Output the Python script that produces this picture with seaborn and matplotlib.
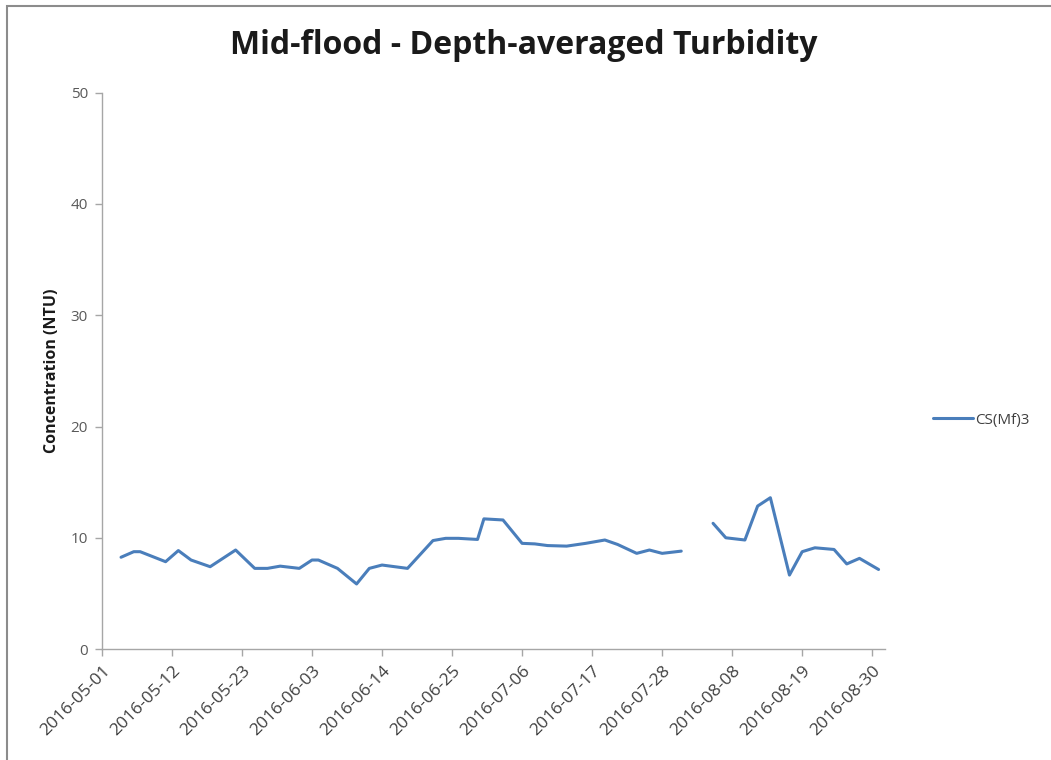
import numpy as np
import pandas as pd
import matplotlib.pyplot as plt
import matplotlib.dates as mdates
from matplotlib.patches import Rectangle
import seaborn as sns

dates = ["2016-05-04", "2016-05-06", "2016-05-07", "2016-05-11", "2016-05-13",
         "2016-05-15", "2016-05-18", "2016-05-22", "2016-05-25", "2016-05-27",
         "2016-05-29", "2016-06-01", "2016-06-03", "2016-06-04", "2016-06-07",
         "2016-06-10", "2016-06-12", "2016-06-14", "2016-06-16", "2016-06-18",
         "2016-06-22", "2016-06-24", "2016-06-26", "2016-06-29", "2016-06-30",
         "2016-07-03", "2016-07-06", "2016-07-08", "2016-07-10", "2016-07-13",
         "2016-07-16", "2016-07-19", "2016-07-21", "2016-07-24", "2016-07-26",
         "2016-07-28", "2016-07-31", "2016-08-02", "2016-08-05", "2016-08-07",
         "2016-08-10", "2016-08-12", "2016-08-14", "2016-08-17", "2016-08-19",
         "2016-08-21", "2016-08-24", "2016-08-26", "2016-08-28", "2016-08-31"]
turbidity = [8.25, 8.75, 8.75, 7.85, 8.85,
             8.0, 7.4, 8.9, 7.25, 7.25,
             7.45, 7.25, 8.0, 8.0, 7.25,
             5.85, 7.25, 7.55, 7.4, 7.25,
             9.75, 9.95, 9.95, 9.85, 11.7,
             11.6, 9.5, 9.45, 9.3, 9.25,
             9.5, 9.8, 9.4, 8.6, 8.9,
             8.6, 8.8, np.nan, 11.3, 10.0,
             9.8, 12.85, 13.6, 6.65, 8.75,
             9.1, 8.95, 7.65, 8.15, 7.15]
series_name = "CS(Mf)3"
tick_dates = ["2016-05-01", "2016-05-12", "2016-05-23", "2016-06-03", "2016-06-14",
              "2016-06-25", "2016-07-06", "2016-07-17", "2016-07-28", "2016-08-08",
              "2016-08-19", "2016-08-30"]
y_ticks = [0, 10, 20, 30, 40, 50]

df = pd.DataFrame({"date": pd.to_datetime(dates), "val": turbidity})
# gap in the record -> separate line pieces
df["seg"] = df["val"].isna().cumsum()
df = df.dropna()

sns.set_style("white")
plt.rcParams["font.family"] = ["Open Sans", "DejaVu Sans"]

fig = plt.figure(figsize=(10.51, 7.6), dpi=100)
ax = fig.add_axes([0.097, 0.146, 0.745, 0.732])

line_col = "#4a7ebb"
sns.lineplot(data=df, x="date", y="val", units="seg", estimator=None,
             color=line_col, linewidth=2.2, ax=ax)

ax.set_xlim(pd.Timestamp("2016-05-01"), pd.Timestamp("2016-09-01"))
ax.set_ylim(0, 50)
ax.set_yticks(y_ticks)
ax.set_xticks(pd.to_datetime(tick_dates))
ax.xaxis.set_major_formatter(mdates.DateFormatter("%Y-%m-%d"))
plt.setp(ax.get_xticklabels(), rotation=45, ha="right", rotation_mode="anchor")

for s in ["top", "right"]:
    ax.spines[s].set_visible(False)
for s in ["left", "bottom"]:
    ax.spines[s].set_color("#a6a6a6")
    ax.spines[s].set_linewidth(1.0)
ax.tick_params(axis="both", which="major", length=5, width=1, color="#a6a6a6",
               direction="out", left=True, bottom=True)
ax.tick_params(axis="y", labelsize=11, labelcolor="#595959", pad=5)
ax.tick_params(axis="x", labelsize=12.5, labelcolor="#404040", pad=5)

ax.set_xlabel("")
ax.set_ylabel("Concentration (NTU)", fontsize=11.5, fontweight="bold", labelpad=8,
              color="#1a1a1a")
fig.text(0.498, 0.94, "Mid-flood - Depth-averaged Turbidity", ha="center", va="center",
         fontsize=23, fontweight="bold", color="#1a1a1a")

handle = ax.get_lines()[0]
fig.legend([handle], [series_name], loc="center left", bbox_to_anchor=(0.875, 0.447),
           frameon=False, fontsize=11, handlelength=2.6, handletextpad=0.1,
           labelcolor="#404040")

# outer chart border (top/left edges visible in reference)
fig.patches.append(Rectangle((7 / 1051, -0.05), 1.2, 1 - 6 / 760 + 0.05,
                             transform=fig.transFigure, fill=False,
                             edgecolor="#8c8c8c", linewidth=1.5, figure=fig))

fig.savefig("out.png", dpi=100)
